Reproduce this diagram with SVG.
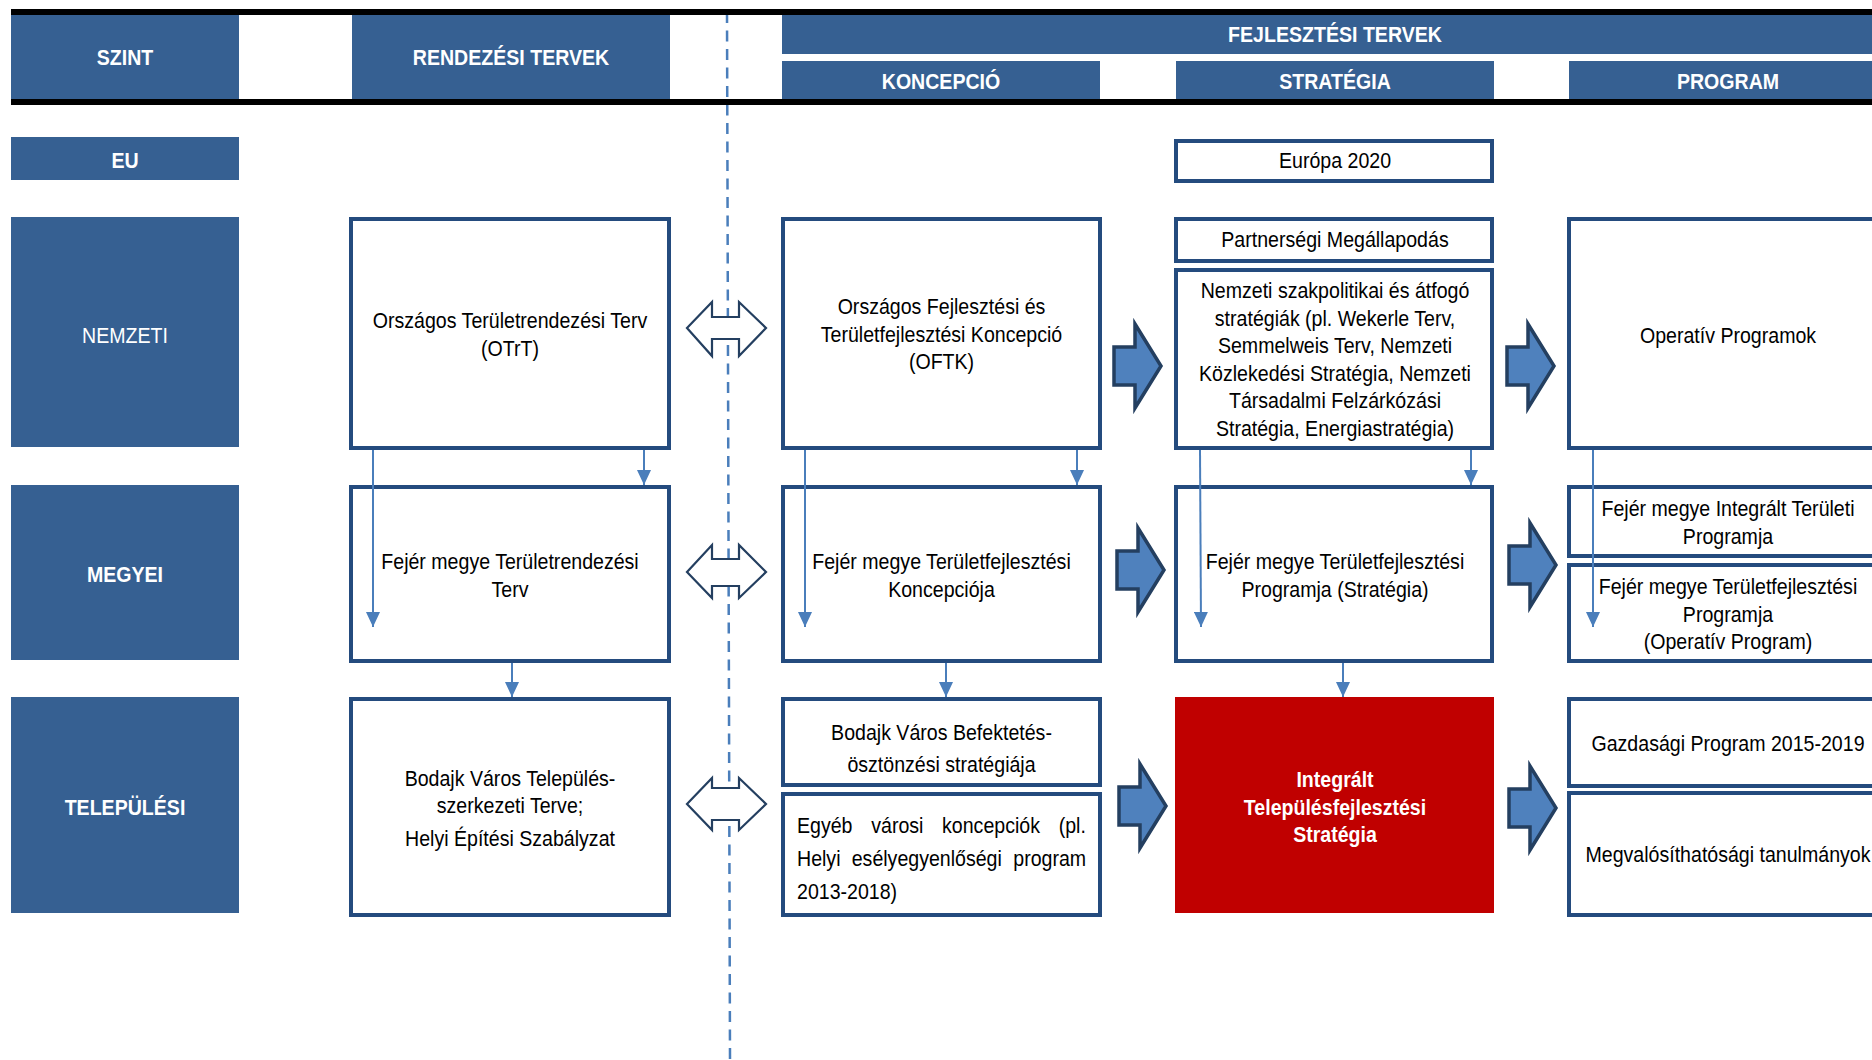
<svg xmlns="http://www.w3.org/2000/svg" width="1872" height="1060" viewBox="0 0 1872 1060">
<defs>
<style>
.hdr{fill:#366092}
.bar{fill:#000}
.box{fill:#fff;stroke:#244b7e;stroke-width:4}
.red{fill:#c00000}
.t{font-family:"Liberation Sans",Arial,sans-serif;font-size:22px;fill:#000;text-anchor:middle}
.ts{font-family:"Liberation Sans",Arial,sans-serif;font-size:22px;fill:#000;text-anchor:start}
.w{fill:#fff;font-weight:bold}
.wr{fill:#fff}
.ln{stroke:#4a7ebb;stroke-width:2;fill:none;marker-end:url(#ah)}
.blk{fill:#4f81bd;stroke:#243f60;stroke-width:3.5}
.dbl{fill:#fff;stroke:#243f60;stroke-width:2.2}
.sep{stroke:#4a7ebb;stroke-width:2.5;stroke-dasharray:11 7.5;fill:none}
</style>
<marker id="ah" markerUnits="userSpaceOnUse" markerWidth="15" markerHeight="14" viewBox="0 0 15 14" refX="15" refY="7" orient="auto">
<path d="M0,0 L15,7 L0,14 Z" fill="#4a7ebb"/>
</marker>
<path id="blkarrow" d="M0,-19 H21 V-42 L47,0 L21,42 V19 H0 Z"/>
</defs>

<g id="separator">
<line class="sep" x1="727" y1="12" x2="730" y2="1060"/>
</g>

<g id="header">
<rect class="bar" x="11" y="9" width="1861" height="6"/>
<rect class="bar" x="11" y="99" width="1861" height="6"/>
<g id="h-szint"><rect class="hdr" x="11" y="15" width="228" height="84"/>
<text class="t w" transform="matrix(.89 0 0 1 125 0)"><tspan x="0" y="65">SZINT</tspan></text></g>
<g id="h-rendezesi"><rect class="hdr" x="352" y="15" width="318" height="84"/>
<text class="t w" transform="matrix(.89 0 0 1 511 0)"><tspan x="0" y="65">RENDEZÉSI TERVEK</tspan></text></g>
<g id="h-fejlesztesi"><rect class="hdr" x="782" y="15" width="1090" height="39"/>
<text class="t w" transform="matrix(.89 0 0 1 1335 0)"><tspan x="0" y="42.5">FEJLESZTÉSI TERVEK</tspan></text></g>
<g id="h-koncepcio"><rect class="hdr" x="782" y="61" width="318" height="38"/>
<text class="t w" transform="matrix(.89 0 0 1 941 0)"><tspan x="0" y="89">KONCEPCIÓ</tspan></text></g>
<g id="h-strategia"><rect class="hdr" x="1176" y="61" width="318" height="38"/>
<text class="t w" transform="matrix(.89 0 0 1 1335 0)"><tspan x="0" y="89">STRATÉGIA</tspan></text></g>
<g id="h-program"><rect class="hdr" x="1569" y="61" width="318" height="38"/>
<text class="t w" transform="matrix(.89 0 0 1 1728 0)"><tspan x="0" y="89">PROGRAM</tspan></text></g>
</g>

<g id="levels">
<g id="l-eu"><rect class="hdr" x="11" y="137" width="228" height="43"/>
<text class="t w" transform="matrix(.89 0 0 1 125 0)"><tspan x="0" y="168.5">EU</tspan></text></g>
<g id="l-nemzeti"><rect class="hdr" x="11" y="217" width="228" height="230"/>
<text class="t wr" transform="matrix(.89 0 0 1 125 0)"><tspan x="0" y="343">NEMZETI</tspan></text></g>
<g id="l-megyei"><rect class="hdr" x="11" y="485" width="228" height="175"/>
<text class="t w" transform="matrix(.89 0 0 1 125 0)"><tspan x="0" y="582">MEGYEI</tspan></text></g>
<g id="l-telepulesi"><rect class="hdr" x="11" y="697" width="228" height="216"/>
<text class="t w" transform="matrix(.89 0 0 1 125 0)"><tspan x="0" y="815">TELEPÜLÉSI</tspan></text></g>
</g>

<g id="n-europa"><rect class="box" x="1176" y="141" width="316" height="40"/>
<text class="t" transform="matrix(.89 0 0 1 1335 0)"><tspan x="0" y="168">Európa 2020</tspan></text></g>

<g id="n-otrt"><rect class="box" x="351" y="219" width="318" height="229"/>
<text class="t" transform="matrix(.89 0 0 1 510 0)"><tspan x="0" y="328.5">Országos Területrendezési Terv</tspan><tspan x="0" y="356">(OTrT)</tspan></text></g>

<g id="n-oftk"><rect class="box" x="783" y="219" width="317" height="229"/>
<text class="t" transform="matrix(.89 0 0 1 941.5 0)"><tspan x="0" y="314.5">Országos Fejlesztési és</tspan><tspan x="0" y="342">Területfejlesztési Koncepció</tspan><tspan x="0" y="369.5">(OFTK)</tspan></text></g>

<g id="n-partnersegi"><rect class="box" x="1176" y="219" width="316" height="42"/>
<text class="t" transform="matrix(.89 0 0 1 1335 0)"><tspan x="0" y="247.5">Partnerségi Megállapodás</tspan></text></g>

<g id="n-nemzeti-strategiak"><rect class="box" x="1176" y="270" width="316" height="178"/>
<text class="t" transform="matrix(.89 0 0 1 1335 0)"><tspan x="0" y="298">Nemzeti szakpolitikai és átfogó</tspan><tspan x="0" y="325.6">stratégiák (pl. Wekerle Terv,</tspan><tspan x="0" y="353">Semmelweis Terv, Nemzeti</tspan><tspan x="0" y="381">Közlekedési Stratégia, Nemzeti</tspan><tspan x="0" y="408.5">Társadalmi Felzárkózási</tspan><tspan x="0" y="436">Stratégia, Energiastratégia)</tspan></text></g>

<g id="n-operativ"><rect class="box" x="1569" y="219" width="318" height="229"/>
<text class="t" transform="matrix(.89 0 0 1 1728 0)"><tspan x="0" y="343">Operatív Programok</tspan></text></g>

<g id="n-megye-rendezesi"><rect class="box" x="351" y="487" width="318" height="174"/>
<text class="t" transform="matrix(.89 0 0 1 510 0)"><tspan x="0" y="569">Fejér megye Területrendezési</tspan><tspan x="0" y="597">Terv</tspan></text></g>

<g id="n-megye-koncepcio"><rect class="box" x="783" y="487" width="317" height="174"/>
<text class="t" transform="matrix(.89 0 0 1 941.5 0)"><tspan x="0" y="569">Fejér megye Területfejlesztési</tspan><tspan x="0" y="597">Koncepciója</tspan></text></g>

<g id="n-megye-strategia"><rect class="box" x="1176" y="487" width="316" height="174"/>
<text class="t" transform="matrix(.89 0 0 1 1335 0)"><tspan x="0" y="569">Fejér megye Területfejlesztési</tspan><tspan x="0" y="597">Programja (Stratégia)</tspan></text></g>

<g id="n-megye-itp"><rect class="box" x="1569" y="487" width="318" height="69"/>
<text class="t" transform="matrix(.89 0 0 1 1728 0)"><tspan x="0" y="516.5">Fejér megye Integrált Területi</tspan><tspan x="0" y="544">Programja</tspan></text></g>

<g id="n-megye-op"><rect class="box" x="1569" y="565" width="318" height="96"/>
<text class="t" transform="matrix(.89 0 0 1 1728 0)"><tspan x="0" y="594">Fejér megye Területfejlesztési</tspan><tspan x="0" y="621.7">Programja</tspan><tspan x="0" y="649">(Operatív Program)</tspan></text></g>

<g id="n-tsz"><rect class="box" x="351" y="699" width="318" height="216"/>
<text class="t" transform="matrix(.89 0 0 1 510 0)"><tspan x="0" y="786">Bodajk Város Település-</tspan><tspan x="0" y="813">szerkezeti Terve;</tspan><tspan x="0" y="846">Helyi Építési Szabályzat</tspan></text></g>

<g id="n-befektetes"><rect class="box" x="783" y="699" width="317" height="86"/>
<text class="t" transform="matrix(.89 0 0 1 941.5 0)"><tspan x="0" y="740">Bodajk Város Befektetés-</tspan><tspan x="0" y="772">ösztönzési stratégiája</tspan></text></g>

<g id="n-egyeb"><rect class="box" x="783" y="794" width="317" height="121"/>
<text class="ts" transform="matrix(.89 0 0 1 797 0)"><tspan x="0" y="833.5">Egyéb</tspan><tspan x="83.4" y="833.5">városi</tspan><tspan x="163" y="833.5">koncepciók</tspan><tspan x="294" y="833.5">(pl.</tspan><tspan x="0" y="866">Helyi</tspan><tspan x="61.5" y="866">esélyegyenlőségi</tspan><tspan x="243" y="866">program</tspan><tspan x="0" y="899">2013-2018)</tspan></text></g>

<g id="n-its"><rect class="red" x="1175" y="697" width="319" height="216"/>
<text class="t w" transform="matrix(.89 0 0 1 1335 0)"><tspan x="0" y="787">Integrált</tspan><tspan x="0" y="815">Településfejlesztési</tspan><tspan x="0" y="842">Stratégia</tspan></text></g>

<g id="n-gazdasagi"><rect class="box" x="1569" y="699" width="318" height="87"/>
<text class="t" transform="matrix(.89 0 0 1 1728 0)"><tspan x="0" y="751">Gazdasági Program 2015-2019</tspan></text></g>

<g id="n-megvalosithatosagi"><rect class="box" x="1569" y="793" width="318" height="122"/>
<text class="t" transform="matrix(.89 0 0 1 1728 0)"><tspan x="0" y="862">Megvalósíthatósági tanulmányok</tspan></text></g>

<g id="connectors">
<line class="ln" x1="373" y1="450" x2="373" y2="627"/>
<line class="ln" x1="644" y1="450" x2="644" y2="485"/>
<line class="ln" x1="805" y1="450" x2="805" y2="627"/>
<line class="ln" x1="1077" y1="450" x2="1077" y2="485"/>
<line class="ln" x1="1200" y1="450" x2="1201" y2="627"/>
<line class="ln" x1="1471" y1="450" x2="1471" y2="485"/>
<line class="ln" x1="1593" y1="450" x2="1593" y2="627"/>
<line class="ln" x1="512" y1="663" x2="512" y2="697"/>
<line class="ln" x1="946" y1="663" x2="946" y2="697"/>
<line class="ln" x1="1343" y1="663" x2="1343" y2="697"/>
<use href="#blkarrow" class="blk" x="1114" y="366"/>
<use href="#blkarrow" class="blk" x="1507" y="366"/>
<use href="#blkarrow" class="blk" x="1117" y="570"/>
<use href="#blkarrow" class="blk" x="1509" y="565"/>
<use href="#blkarrow" class="blk" x="1119" y="806"/>
<use href="#blkarrow" class="blk" x="1509" y="808"/>
<path class="dbl" d="M687,328 L712,302 L712,317 L739,317 L739,302 L766,328 L739,356 L739,339 L712,339 L712,356 Z"/>
<path class="dbl" d="M687,572 L712,545 L712,559 L739,559 L739,545 L766,572 L739,598 L739,586 L712,586 L712,598 Z"/>
<path class="dbl" d="M687,804 L712,778 L712,788 L739,788 L739,778 L766,804 L739,830 L739,820 L712,820 L712,830 Z"/>
</g>
</svg>
